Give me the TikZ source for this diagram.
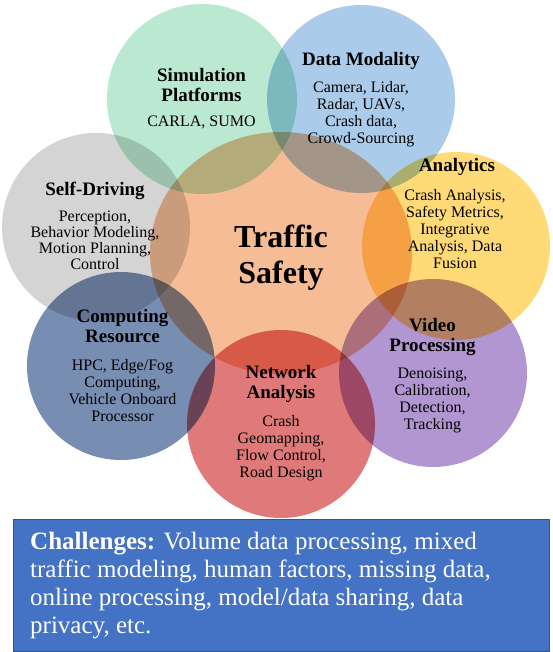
\documentclass[tikz,border=0pt]{standalone}
\usepackage{fontspec}
\setmainfont{Liberation Serif}
\usetikzlibrary{calc}

\definecolor{hubcol}{RGB}{245,188,150}
\definecolor{simcol}{RGB}{187,232,208}
\definecolor{datacol}{RGB}{170,204,234}
\definecolor{anacol}{RGB}{255,218,118}
\definecolor{vidcol}{RGB}{178,150,210}
\definecolor{netcol}{RGB}{224,122,122}
\definecolor{compcol}{RGB}{120,141,178}
\definecolor{selfcol}{RGB}{212,212,212}
\definecolor{boxcol}{RGB}{68,114,196}
\definecolor{boxline}{RGB}{47,85,151}

\tikzset{
	head/.style={font=\bfseries\fontsize{19}{20}\selectfont, align=center, anchor=base},
	body/.style={font=\fontsize{16}{17}\selectfont, align=center, anchor=base},
	hub/.style={font=\bfseries\fontsize{32}{36}\selectfont, align=center, anchor=base},
	challenge/.style={font=\fontsize{25}{28}\selectfont, text=white, align=left, anchor=base west, inner sep=0pt}
}

\begin{document}
\begin{tikzpicture}[x=1pt, y=-1pt]
				\useasboundingbox (0, 0) rectangle (552, 652);
				\coordinate (T) at (281, 253);
				\coordinate (S) at (202, 99);
				\coordinate (D) at (361, 99);
				\coordinate (A) at (456, 246);
				\coordinate (V) at (433, 373);
				\coordinate (N) at (281, 424);
				\coordinate (C) at (121, 366);
				\coordinate (P) at (96, 227);
				
				\begin{scope}[blend group=multiply]
					\fill[hubcol] (T) ellipse (131 and 121);
					\fill[selfcol] (P) circle (94);
					\fill[simcol] (S) circle (95);
					\fill[datacol] (D) circle (94);
					\fill[anacol] (A) circle (94);
					\fill[vidcol] (V) circle (94);
					\fill[compcol] (C) circle (94);
					\fill[netcol] (N) circle (94);
				\end{scope}
				
				\node[hub] (hubT) at (281, 283) {Traffic\\Safety};
				
				\node[head] (simT) at (201.5, 102) {Simulation\\Platforms};
				\node[body] (simB) at (201.5, 127) {CARLA, SUMO};
				
				\node[head] (dataT) at (361, 66) {Data Modality};
				\node[body] (dataB) at (361, 144) {Camera, Lidar,\\Radar, UAVs,\\Crash data,\\Crowd-Sourcing};
				
				\node[head] (anaT) at (457, 172) {Analytics};
				\node[body] (anaB) at (455, 268) {Crash Analysis,\\Safety Metrics,\\Integrative\\Analysis, Data\\Fusion};
				
				\node[head] (selfT) at (95, 196) {Self-Driving};
				\node[body, font=\fontsize{16}{16}\selectfont] (selfB) at (95, 269) {Perception,\\Behavior Modeling,\\Motion Planning,\\Control};
				
				\node[head] (compT) at (122.5, 342) {Computing\\Resource};
				\node[body] (compB) at (122.5, 421) {HPC, Edge/Fog\\Computing,\\Vehicle Onboard\\Processor};
				
				\node[head] (vidT) at (432.5, 351) {Video\\Processing};
				\node[body] (vidB) at (432.5, 429) {Denoising,\\Calibration,\\Detection,\\Tracking};
				
				\node[head] (netT) at (281, 398) {Network\\Analysis};
				\node[body] (netB) at (281, 477) {Crash\\Geomapping,\\Flow Control,\\Road Design};
				
				\node[draw=boxline, fill=boxcol, line width=1.2pt, minimum width=536, minimum height=132, anchor=north west] (box) at (13, 519) {};
				\node[challenge] (chal) at (30, 633) {\textbf{Challenges:} Volume data processing, mixed\\traffic modeling, human factors, missing data,\\online processing, model/data sharing, data\\privacy, etc.};
			\end{tikzpicture}
\end{document}
